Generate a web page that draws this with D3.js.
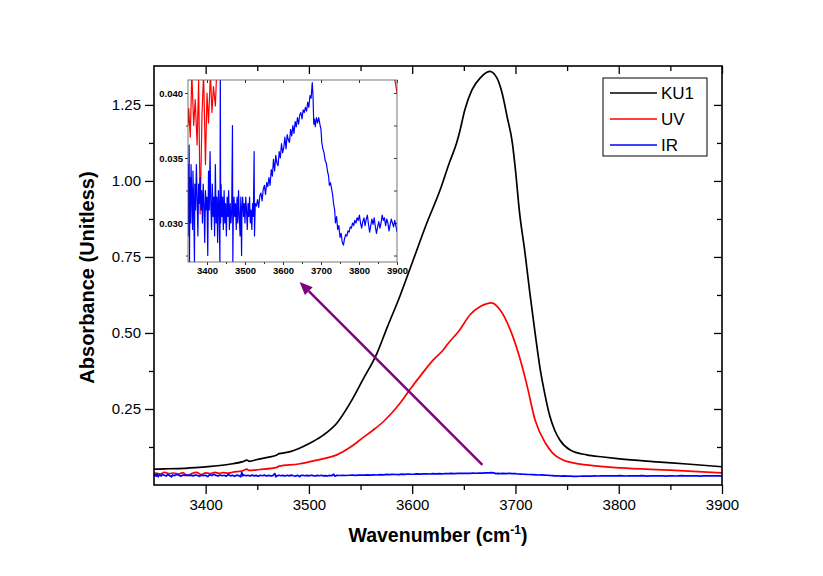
<!DOCTYPE html>
<html><head><meta charset="utf-8">
<script src="https://cdn.jsdelivr.net/npm/d3@7"></script>
<style>
body{margin:0;background:#fff;}
text{font-family:"Liberation Sans",Arial,sans-serif;}
</style></head>
<body><svg id="c" width="823" height="576"></svg>
<script>
// ---- data ----
const seriesNames = ["KU1","UV","IR"];
const seriesColors = ["#000000","#ff0000","#0000ff"];
const xTicks = [3400,3500,3600,3700,3800,3900];
const yTicks = [0.25,0.50,0.75,1.00,1.25];
const insetYTicks = [0.030,0.035,0.040];

const ku1X = [3350,3360,3372,3384,3394,3405,3416,3426,3436,3440,3442,3450,3460,3469,3471,3480,3494,3504,3514,3527,3540,3552,3566,3576,3588,3601,3614,3627,3636,3643,3646,3651,3658,3666,3675,3682,3687,3692,3697,3700,3704,3709,3714,3719,3724,3729,3733,3738,3743,3753,3769,3785,3801,3833,3866,3900];
const ku1Y = [0.052,0.053,0.054,0.056,0.058,0.061,0.065,0.070,0.077,0.082,0.078,0.084,0.091,0.099,0.103,0.108,0.126,0.143,0.164,0.203,0.270,0.345,0.434,0.52,0.62,0.74,0.86,0.97,1.06,1.125,1.162,1.234,1.300,1.339,1.360,1.339,1.290,1.210,1.125,1.036,0.895,0.770,0.630,0.500,0.380,0.290,0.230,0.180,0.148,0.115,0.099,0.092,0.086,0.077,0.069,0.060];

const uvX = [3350,3352,3356,3360,3365,3369,3374,3378,3382,3387,3391,3396,3400,3404,3409,3413,3417,3422,3426,3436,3440,3442,3452,3469,3471,3490,3508,3527,3540,3552,3562,3572,3580,3588,3598,3610,3620,3630,3634,3646,3656,3666,3677,3685,3695,3704,3711,3719,3729,3736,3746,3757,3769,3801,3850,3900];
const uvY = [0.0375,0.0388,0.0366,0.0415,0.0375,0.0395,0.0360,0.0410,0.0307,0.0385,0.0415,0.0345,0.0400,0.0377,0.0415,0.0385,0.0405,0.0390,0.0420,0.047,0.052,0.048,0.051,0.058,0.062,0.069,0.082,0.099,0.124,0.155,0.180,0.208,0.236,0.268,0.315,0.368,0.410,0.444,0.462,0.510,0.560,0.587,0.599,0.576,0.510,0.420,0.330,0.214,0.138,0.105,0.082,0.072,0.066,0.056,0.049,0.040];

const irX = [3350,3351,3352,3353,3354,3355,3357,3358,3360,3362,3363,3365,3367,3368,3370,3372,3374,3376,3378,3380,3382,3384,3386,3388,3390,3392,3394,3396,3398,3400,3402,3404,3406,3408,3410,3412,3414,3416,3418,3420,3422,3424,3426,3428,3430,3432,3434,3435,3436,3437,3439,3441,3443,3445,3447,3449,3451,3453,3455,3457,3459,3461,3463,3465,3467,3468,3469,3471,3473,3475,3477,3479,3481,3483,3485,3487,3489,3491,3492,3494,3496,3498,3500,3502,3504,3506,3508,3510,3512,3514,3516,3518,3520,3522,3524,3525,3527,3530,3533,3536,3539,3542,3545,3548,3551,3554,3557,3560,3563,3566,3569,3572,3575,3578,3581,3584,3587,3590,3593,3596,3599,3602,3605,3608,3611,3614,3617,3620,3623,3626,3629,3632,3635,3638,3641,3644,3647,3650,3653,3656,3659,3662,3665,3668,3671,3674,3677,3679,3681,3683,3685,3688,3691,3694,3697,3700,3702,3705,3708,3711,3714,3717,3720,3722,3725,3728,3731,3733,3736,3738,3741,3744,3747,3750,3753,3756,3759,3762,3765,3768,3771,3774,3777,3780,3783,3786,3789,3792,3795,3798,3801,3804,3807,3810,3813,3816,3819,3822,3825,3828,3831,3834,3837,3840,3843,3846,3849,3852,3855,3858,3861,3864,3867,3870,3873,3876,3879,3882,3885,3888,3891,3894,3897,3900];
const irY = [0.0300,0.0345,0.0290,0.0360,0.0270,0.0335,0.0300,0.0345,0.0320,0.0295,0.0340,0.0315,0.0270,0.0330,0.0310,0.0345,0.0320,0.0290,0.0330,0.0315,0.0335,0.0310,0.0325,0.0300,0.0330,0.0315,0.0285,0.0325,0.0310,0.0320,0.0275,0.0340,0.0310,0.0355,0.0315,0.0295,0.0330,0.0305,0.0320,0.0290,0.0345,0.0300,0.0320,0.0285,0.0325,0.0310,0.0270,0.0420,0.0300,0.0330,0.0305,0.0320,0.0295,0.0325,0.0300,0.0315,0.0290,0.0320,0.0305,0.0325,0.0295,0.0315,0.0300,0.0310,0.0375,0.0270,0.0300,0.0320,0.0305,0.0315,0.0295,0.0320,0.0300,0.0325,0.0305,0.0290,0.0320,0.0275,0.0310,0.0320,0.0305,0.0315,0.0300,0.0320,0.0310,0.0295,0.0315,0.0305,0.0320,0.0300,0.0310,0.0295,0.0315,0.0305,0.0355,0.0290,0.0315,0.0313,0.0318,0.0312,0.0321,0.0323,0.0317,0.0326,0.0329,0.0322,0.0331,0.0328,0.0335,0.0329,0.0341,0.0336,0.0349,0.0340,0.0352,0.0346,0.0344,0.0355,0.0350,0.0361,0.0354,0.0358,0.0366,0.0357,0.0368,0.0364,0.0362,0.0372,0.0367,0.0375,0.0369,0.0378,0.0374,0.0381,0.0376,0.0383,0.0385,0.0380,0.0387,0.0385,0.0389,0.0386,0.0393,0.0389,0.0398,0.0396,0.0408,0.0398,0.0376,0.0380,0.0374,0.0381,0.0377,0.0381,0.0376,0.0372,0.0362,0.0357,0.0354,0.0348,0.0346,0.0340,0.0336,0.0329,0.0331,0.0326,0.0321,0.0315,0.0310,0.0300,0.0305,0.0295,0.0298,0.0289,0.0292,0.0285,0.0283,0.0288,0.0291,0.0290,0.0294,0.0293,0.0297,0.0296,0.0300,0.0298,0.0302,0.0300,0.0304,0.0302,0.0306,0.0300,0.0296,0.0301,0.0304,0.0298,0.0303,0.0306,0.0299,0.0293,0.0298,0.0303,0.0299,0.0304,0.0297,0.0292,0.0297,0.0301,0.0296,0.0300,0.0306,0.0302,0.0304,0.0298,0.0303,0.0300,0.0294,0.0299,0.0303,0.0300,0.0297,0.0302,0.0298,0.0293];

// annotation arrow in data units (from, to)
const arrowFrom = [3668, 0.066];
const arrowTo = [3491, 0.668];

// ---- build ----
const series = [
  {name:seriesNames[0], color:seriesColors[0], pts: ku1X.map((x,i)=>[x,ku1Y[i]])},
  {name:seriesNames[1], color:seriesColors[1], pts: uvX.map((x,i)=>[x,uvY[i]])},
  {name:seriesNames[2], color:seriesColors[2], pts: irX.map((x,i)=>[x,irY[i]])}
];

const svg = d3.select("#c");
const L=154, R=722, T=66, B=485;
const x = d3.scaleLinear().domain([3350,3900]).range([L,R]);
const y = d3.scaleLinear().domain([0,1.378]).range([B,T]);

svg.append("defs").append("clipPath").attr("id","mclip")
  .append("rect").attr("x",L).attr("y",T).attr("width",R-L).attr("height",B-T);

const gLines = svg.append("g").attr("clip-path","url(#mclip)");
const lineSmooth = d3.line().x(d=>x(d[0])).y(d=>y(d[1])).curve(d3.curveMonotoneX);
const lineRaw = d3.line().x(d=>x(d[0])).y(d=>y(d[1]));
[0,1,2].forEach(i=>{
  gLines.append("path").attr("d",(i<2?lineSmooth:lineRaw)(series[i].pts)).attr("fill","none")
    .attr("stroke",series[i].color).attr("stroke-width",1.7).attr("stroke-linejoin","round");
});

// axes
const minorX = d3.range(3350,3901,50).filter(v=>!xTicks.includes(v) && v!==3350);
const minorY = [0.125,0.375,0.625,0.875,1.125];
function styleAxis(g){
  g.selectAll(".domain").remove();
  g.selectAll("line").attr("stroke","#000").attr("stroke-width",1.3);
  g.selectAll("text").attr("font-size","15px").attr("fill","#000")
   .style("font-family","'Liberation Sans',Arial,sans-serif");
}
svg.append("g").attr("transform",`translate(0,${B})`)
  .call(d3.axisBottom(x).tickValues(xTicks).tickSize(9).tickPadding(5).tickFormat(d3.format("d"))).call(styleAxis);
svg.append("g").attr("transform",`translate(0,${B})`)
  .call(d3.axisBottom(x).tickValues(minorX).tickSize(5).tickFormat("")).call(styleAxis);
svg.append("g").attr("transform",`translate(${L},0)`)
  .call(d3.axisLeft(y).tickValues(yTicks).tickSize(9).tickPadding(4).tickFormat(d3.format(".2f"))).call(styleAxis);
svg.append("g").attr("transform",`translate(${L},0)`)
  .call(d3.axisLeft(y).tickValues(minorY).tickSize(5).tickFormat("")).call(styleAxis);
// mirrored inward ticks
svg.append("g").attr("transform",`translate(0,${T})`)
  .call(d3.axisTop(x).tickValues(xTicks).tickSize(-8).tickFormat("")).call(styleAxis);
svg.append("g").attr("transform",`translate(0,${T})`)
  .call(d3.axisTop(x).tickValues(minorX).tickSize(-5).tickFormat("")).call(styleAxis);
svg.append("g").attr("transform",`translate(${R},0)`)
  .call(d3.axisRight(y).tickValues(yTicks).tickSize(-8).tickFormat("")).call(styleAxis);
svg.append("g").attr("transform",`translate(${R},0)`)
  .call(d3.axisRight(y).tickValues(minorY).tickSize(-5).tickFormat("")).call(styleAxis);

svg.append("rect").attr("x",L).attr("y",T).attr("width",R-L).attr("height",B-T)
  .attr("fill","none").attr("stroke","#000").attr("stroke-width",1.6);

// axis titles
const xt = svg.append("text").attr("x",(L+R)/2).attr("y",542).attr("text-anchor","middle")
  .attr("font-size","19.5px").attr("font-weight","bold");
xt.append("tspan").text("Wavenumber (cm");
xt.append("tspan").attr("font-size","12px").attr("dy","-8").text("-1");
xt.append("tspan").attr("dy","8").text(")");
svg.append("text").attr("transform",`translate(94,${(T+B)/2 + 2}) rotate(-90)`)
  .attr("text-anchor","middle").attr("font-size","20px").attr("font-weight","bold")
  .text("Absorbance (Unitless)");

// legend
const lg = svg.append("g");
lg.append("rect").attr("x",603).attr("y",78).attr("width",104).attr("height",78)
  .attr("fill","#fff").attr("stroke","#000").attr("stroke-width",1);
series.forEach((s,i)=>{
  const yy = 93 + i*26;
  lg.append("line").attr("x1",610).attr("x2",657).attr("y1",yy).attr("y2",yy)
    .attr("stroke",s.color).attr("stroke-width",1.6);
  lg.append("text").attr("x",661).attr("y",yy+6).attr("font-size","17px").text(s.name);
});

// inset
const iL=188, iR=397, iT=80, iB=262;
const xi = d3.scaleLinear().domain([3350,3900]).range([iL,iR]);
const yi = d3.scaleLinear().domain([0.027,0.041]).range([iB,iT]);
svg.select("defs").append("clipPath").attr("id","iclip")
  .append("rect").attr("x",iL).attr("y",iT).attr("width",iR-iL).attr("height",iB-iT);
svg.append("rect").attr("x",iL).attr("y",iT).attr("width",iR-iL).attr("height",iB-iT).attr("fill","#fff");
const gi = svg.append("g").attr("clip-path","url(#iclip)");
const iline = d3.line().x(d=>xi(d[0])).y(d=>yi(d[1]));
[1,2].forEach(i=>{
  gi.append("path").attr("d",iline(series[i].pts)).attr("fill","none")
    .attr("stroke",series[i].color).attr("stroke-width",1.2).attr("stroke-linejoin","round");
});
function styleInset(g){
  g.selectAll(".domain").remove();
  g.selectAll("line").attr("stroke","#000").attr("stroke-width",0.8);
  g.selectAll("text").attr("font-size","9.5px").attr("font-weight","bold").attr("fill","#000")
   .style("font-family","'Liberation Sans',Arial,sans-serif");
}
const iMinorX = d3.range(3350,3901,50).filter(v=>!xTicks.includes(v) && v!==3350);
const iMinorY = [0.0275,0.0325,0.0375];
svg.append("g").attr("transform",`translate(0,${iB})`)
  .call(d3.axisBottom(xi).tickValues(xTicks).tickSize(3).tickPadding(2).tickFormat(d3.format("d"))).call(styleInset);
svg.append("g").attr("transform",`translate(0,${iB})`)
  .call(d3.axisBottom(xi).tickValues(iMinorX).tickSize(2).tickFormat("")).call(styleInset);
svg.append("g").attr("transform",`translate(${iL},0)`)
  .call(d3.axisLeft(yi).tickValues(insetYTicks).tickSize(3).tickPadding(2).tickFormat(d3.format(".3f"))).call(styleInset);
svg.append("g").attr("transform",`translate(${iL},0)`)
  .call(d3.axisLeft(yi).tickValues(iMinorY).tickSize(2).tickFormat("")).call(styleInset);
svg.append("g").attr("transform",`translate(0,${iT})`)
  .call(d3.axisTop(xi).tickValues(xTicks).tickSize(-3).tickFormat("")).call(styleInset);
svg.append("g").attr("transform",`translate(${iR},0)`)
  .call(d3.axisRight(yi).tickValues(insetYTicks.concat(iMinorY)).tickSize(-3).tickFormat("")).call(styleInset);
svg.append("rect").attr("x",iL).attr("y",iT).attr("width",iR-iL).attr("height",iB-iT)
  .attr("fill","none").attr("stroke","#555").attr("stroke-width",0.8);

// arrow
const ax1=x(arrowFrom[0]), ay1=y(arrowFrom[1]), ax2=x(arrowTo[0]), ay2=y(arrowTo[1]);
const ang = Math.atan2(ay2-ay1, ax2-ax1);
const hl=13, hw=5.5;
const bx = ax2 - hl*Math.cos(ang), by = ay2 - hl*Math.sin(ang);
svg.append("line").attr("x1",ax1).attr("y1",ay1).attr("x2",bx).attr("y2",by)
  .attr("stroke","#800080").attr("stroke-width",2.4);
svg.append("path").attr("fill","#800080")
  .attr("d",`M${ax2},${ay2}L${bx+hw*Math.sin(ang)},${by-hw*Math.cos(ang)}L${bx-hw*Math.sin(ang)},${by+hw*Math.cos(ang)}Z`);
</script></body></html>
